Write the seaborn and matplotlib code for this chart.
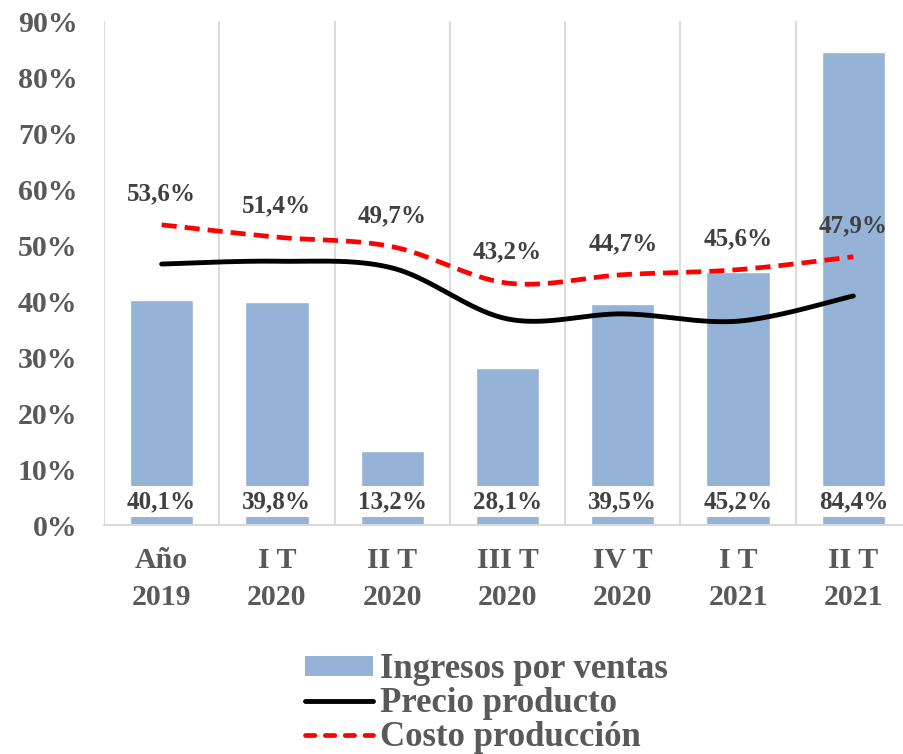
import numpy as np
import pandas as pd
import matplotlib
matplotlib.use("Agg")
import matplotlib.pyplot as plt
import seaborn as sns
from matplotlib.patches import Patch
from matplotlib.lines import Line2D

categories = ["Año\n2019", "I T\n2020", "II T\n2020", "III T\n2020", "IV T\n2020", "I T\n2021", "II T\n2021"]
ingresos = [0.401, 0.398, 0.132, 0.281, 0.395, 0.452, 0.844]
precio = [0.466, 0.471, 0.459, 0.368, 0.377, 0.364, 0.409]
costo = [0.536, 0.514, 0.497, 0.432, 0.447, 0.456, 0.479]
ingresos_labels = ["40,1%", "39,8%", "13,2%", "28,1%", "39,5%", "45,2%", "84,4%"]
costo_labels = ["53,6%", "51,4%", "49,7%", "43,2%", "44,7%", "45,6%", "47,9%"]
yticks = [0, 0.1, 0.2, 0.3, 0.4, 0.5, 0.6, 0.7, 0.8, 0.9]
ytick_labels = ["0%", "10%", "20%", "30%", "40%", "50%", "60%", "70%", "80%", "90%"]

BAR = "#95B3D7"
TXT = "#595959"
LBL = "#404040"
FONT = ["Liberation Serif", "DejaVu Serif"]

sns.set_theme(style="white")
plt.rcParams["font.family"] = FONT
plt.rcParams["font.weight"] = "bold"


def smooth(y, n=40):
    """Excel-like smoothed line (Catmull-Rom Bezier through the data points)."""
    y = np.asarray(y, float)
    x = np.arange(len(y), dtype=float)
    P = np.column_stack([x, y])
    out = []
    m = len(P)
    for i in range(m - 1):
        p0 = P[max(i - 1, 0)]
        p1 = P[i]
        p2 = P[i + 1]
        p3 = P[min(i + 2, m - 1)]
        c1 = p1 + (p2 - p0) / 6.0
        c2 = p2 - (p3 - p1) / 6.0
        t = np.linspace(0, 1, n)[:, None]
        seg = (1 - t) ** 3 * p1 + 3 * (1 - t) ** 2 * t * c1 + 3 * (1 - t) * t ** 2 * c2 + t ** 3 * p2
        out.append(seg if i == 0 else seg[1:])
    arr = np.vstack(out)
    return arr[:, 0], arr[:, 1]


fig = plt.figure(figsize=(9.04, 7.54), dpi=100)
ax = fig.add_axes([104 / 904, 1 - 525 / 754, (911 - 104) / 904, (525 - 21) / 754])

df = pd.DataFrame({"cat": categories, "ingresos": ingresos})
sns.barplot(data=df, x="cat", y="ingresos", color=BAR, saturation=1, width=0.55, ax=ax, zorder=2)

xs, ys = smooth(precio)
sns.lineplot(x=xs, y=ys, sort=False, color="black", linewidth=3.5, ax=ax, zorder=4,
             solid_capstyle="round")
xs2, ys2 = smooth(costo)
sns.lineplot(x=xs2, y=ys2, sort=False, color="#FF0000", linewidth=3.4, ax=ax, zorder=5,
             dashes=False)
ax.lines[-1].set_dashes([3.2, 1.7])
ax.lines[-1].set_dash_capstyle("butt")

ax.set_xlim(-0.5, 6.5)
ax.set_ylim(0, 0.9)
ax.set_yticks(yticks)
ax.set_yticklabels(ytick_labels)
ax.set_xlabel("")
ax.set_ylabel("")
ax.tick_params(axis="y", length=0, pad=19, labelsize=21.5, labelcolor=TXT)
ax.tick_params(axis="x", length=0, pad=16, labelsize=21.5, labelcolor=TXT)
for lab in ax.get_xticklabels():
    lab.set_linespacing(1.45)
    lab.set_fontweight("bold")
for lab in ax.get_yticklabels():
    lab.set_fontweight("bold")

for b in np.arange(-0.5, 7.0, 1.0):
    ax.axvline(b, color="#D9D9D9", linewidth=1.3, zorder=1)

for s in ["top", "right", "left"]:
    ax.spines[s].set_visible(False)
ax.spines["bottom"].set_color("#D9D9D9")
ax.spines["bottom"].set_linewidth(1.5)

for i, t in enumerate(ingresos_labels):
    ax.text(i, 0.042, t, ha="center", va="center", fontsize=18, fontweight="bold",
            color=LBL, zorder=6,
            bbox=dict(facecolor="white", edgecolor="none", pad=2.8))

for i, t in enumerate(costo_labels):
    ax.annotate(t, (i, costo[i]), xytext=(0, 22.5), textcoords="offset points",
                ha="center", va="center", fontsize=18, fontweight="bold", color=LBL, zorder=6)

handles = [
    Patch(facecolor=BAR, edgecolor="none"),
    Line2D([], [], color="black", linewidth=3.5, solid_capstyle="round"),
    Line2D([], [], color="#FF0000", linewidth=3.4, dashes=[2.0, 2.2], dash_capstyle="round"),
]
leg = fig.legend(handles, ["Ingresos por ventas", "Precio producto", "Costo producción"],
                 loc="upper left", bbox_to_anchor=(305 / 904, 1 - 653 / 754), frameon=False,
                 prop={"family": FONT, "weight": "bold", "size": 25},
                 handlelength=1.95, handleheight=0.5, handletextpad=0.2, labelspacing=0.03,
                 borderpad=0, borderaxespad=0)
for t in leg.get_texts():
    t.set_color(TXT)

fig.savefig("out.png", dpi=100)
